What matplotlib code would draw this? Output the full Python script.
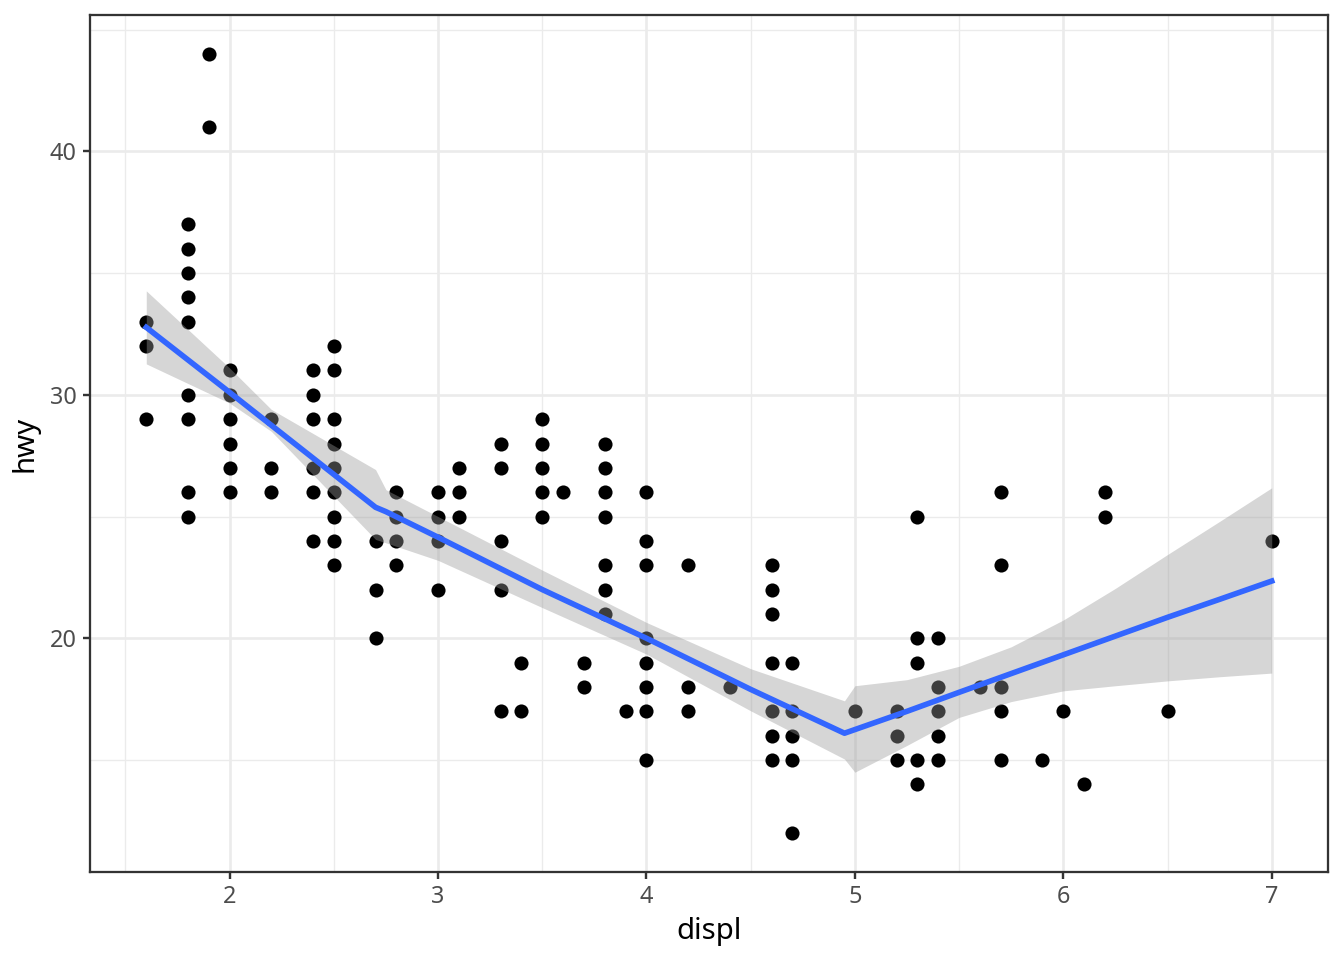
import numpy as np
import matplotlib
matplotlib.use("Agg")
import matplotlib.pyplot as plt
from matplotlib.ticker import MultipleLocator

plt.rcParams["font.family"] = ["Noto Sans", "DejaVu Sans"]

# engine displacement values and the highway mpg readings seen at each one
displ_levels = [1.6, 1.8, 1.9, 2.0, 2.2, 2.4, 2.5, 2.7, 2.8, 3.0, 3.1, 3.3, 3.4,
                3.5, 3.6, 3.7, 3.8, 3.9, 4.0, 4.2, 4.4, 4.6, 4.7, 5.0, 5.2, 5.3,
                5.4, 5.6, 5.7, 5.9, 6.0, 6.1, 6.2, 6.5, 7.0]
hwy_at_displ = [
    [33, 32, 29],
    [37, 36, 35, 34, 33, 30, 29, 26, 25],
    [44, 41],
    [31, 30, 29, 28, 27, 26],
    [29, 27, 26],
    [31, 30, 29, 27, 26, 24],
    [32, 31, 29, 28, 27, 26, 25, 24, 23],
    [24, 22, 20],
    [26, 25, 24, 23],
    [26, 25, 24, 22],
    [27, 26, 25],
    [28, 27, 24, 22, 17],
    [19, 17],
    [29, 28, 27, 26, 25],
    [26],
    [19, 18],
    [28, 27, 26, 25, 23, 22, 21],
    [17],
    [26, 24, 23, 20, 19, 18, 17, 15],
    [23, 18, 17],
    [18],
    [23, 22, 21, 19, 17, 16, 15],
    [19, 17, 16, 15, 12],
    [17],
    [17, 16, 15],
    [25, 20, 19, 15, 14],
    [20, 18, 17, 16, 15],
    [18],
    [26, 23, 18, 17, 15],
    [15],
    [17],
    [14],
    [26, 25],
    [17],
    [24],
]

# smoother
smooth_x = [1.6, 2.0, 2.2, 2.7, 2.75, 3.0, 3.5, 4.0, 4.5, 4.95, 5.0,
            5.25, 5.5, 5.75, 6.0, 6.25, 6.5, 6.75, 7.0]
smooth_fit = [32.77, 30.1, 28.75, 25.38, 25.2, 24.15, 22.0, 20.0, 17.9, 16.1,
              16.25, 17.0, 17.78, 18.55, 19.32, 20.09, 20.86, 21.6, 22.35]
smooth_upper = [34.27, 31.1, 29.4, 26.93, 26.1, 25.0, 22.8, 20.65, 18.75, 17.43,
                18.05, 18.3, 18.85, 19.65, 20.75, 22.05, 23.44, 24.8, 26.18]
smooth_lower = [31.27, 29.66, 28.5, 24.06, 23.92, 23.2, 21.26, 19.35, 17.02, 15.04,
                14.5, 15.6, 16.75, 17.4, 17.84, 18.05, 18.25, 18.42, 18.57]


def flatten_points(levels, groups):
    xs, ys = [], []
    for x, vals in zip(levels, groups):
        for v in vals:
            xs.append(x)
            ys.append(v)
    return np.array(xs), np.array(ys)


def expand(lo, hi, frac=0.05):
    pad = (hi - lo) * frac
    return lo - pad, hi + pad


def main():
    x, y = flatten_points(displ_levels, hwy_at_displ)

    fig = plt.figure(figsize=(7, 5), dpi=192)
    ax = fig.add_axes([90 / 1344, 1 - 872 / 960, (1328 - 90) / 1344, (872 - 15) / 960])

    ax.scatter(x, y, s=28, color="black", linewidths=0, zorder=3)
    ax.fill_between(smooth_x, smooth_lower, smooth_upper, color="#999999",
                    alpha=0.4, linewidth=0, zorder=4)
    ax.plot(smooth_x, smooth_fit, color="#3366FF", linewidth=2.1,
            solid_joinstyle="round", zorder=5)

    ax.set_xlim(*expand(x.min(), x.max()))
    ax.set_ylim(*expand(y.min(), y.max()))

    ax.xaxis.set_major_locator(MultipleLocator(1))
    ax.xaxis.set_minor_locator(MultipleLocator(0.5))
    ax.yaxis.set_major_locator(MultipleLocator(10))
    ax.yaxis.set_minor_locator(MultipleLocator(5))

    ax.grid(which="major", color="#EBEBEB", linewidth=1.0, zorder=0)
    ax.grid(which="minor", color="#EBEBEB", linewidth=0.5, zorder=0)
    ax.set_axisbelow(True)

    for side in ax.spines.values():
        side.set_color("#333333")
        side.set_linewidth(0.85)

    ax.tick_params(which="major", length=2.75, width=0.9, color="#333333",
                   labelsize=8.8, labelcolor="#4D4D4D", pad=2.2)
    ax.tick_params(which="minor", length=0)

    ax.set_xlabel("displ", fontsize=11, labelpad=3)
    ax.set_ylabel("hwy", fontsize=11, labelpad=4)

    fig.savefig("out.png", dpi=192)


if __name__ == "__main__":
    main()
